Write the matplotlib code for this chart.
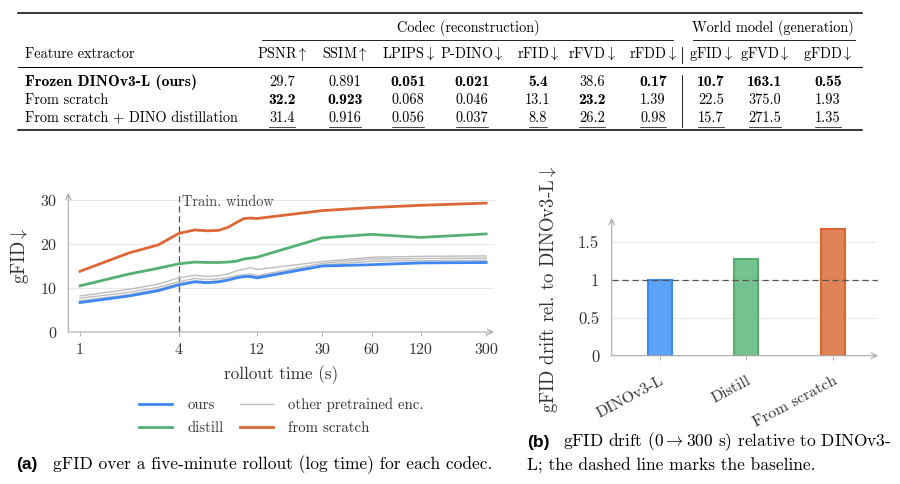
import matplotlib
matplotlib.use("Agg")
import matplotlib.pyplot as plt
from matplotlib.lines import Line2D
import numpy as np

plt.rcParams['font.family'] = ['cmr10', 'DejaVu Serif']
plt.rcParams['mathtext.fontset'] = 'cm'
plt.rcParams['axes.formatter.use_mathtext'] = True
plt.rcParams['axes.unicode_minus'] = False

# ---------------- table data ----------------
row_labels = ["Frozen DINOv3-L (ours)", "From scratch", "From scratch + DINO distillation"]
col_names = ["PSNR", "SSIM", "LPIPS", "P-DINO", "rFID", "rFVD", "rFDD", "gFID", "gFVD", "gFDD"]
higher_better = [True, True, False, False, False, False, False, False, False, False]
psnr = ["29.7", "32.2", "31.4"]
ssim = ["0.891", "0.923", "0.916"]
lpips = ["0.051", "0.068", "0.056"]
pdino = ["0.021", "0.046", "0.037"]
rfid = ["5.4", "13.1", "8.8"]
rfvd = ["38.6", "23.2", "26.2"]
rfdd = ["0.17", "1.39", "0.98"]
gfid = ["10.7", "22.5", "15.7"]
gfvd = ["163.1", "375.0", "271.5"]
gfdd = ["0.55", "1.93", "1.35"]
table_cols = [psnr, ssim, lpips, pdino, rfid, rfvd, rfdd, gfid, gfvd, gfdd]
group_codec = "Codec (reconstruction)"
group_world = "World model (generation)"

# ---------------- rollout (line chart) data ----------------
time_s = [1, 2, 3, 4, 5, 6, 7, 8, 9, 10, 11, 12, 30, 60, 120, 300]
gfid_scratch = [13.8, 18.0, 19.8, 22.4, 23.2, 23.0, 23.1, 23.8, 24.9, 25.8, 25.9, 25.8, 27.6, 28.3, 28.8, 29.3]
gfid_distill = [10.5, 13.2, 14.5, 15.5, 15.9, 15.8, 15.8, 15.9, 16.1, 16.6, 16.8, 17.0, 21.4, 22.2, 21.5, 22.3]
gfid_ours = [6.7, 8.2, 9.4, 10.7, 11.4, 11.2, 11.4, 11.8, 12.3, 12.6, 12.6, 12.3, 15.0, 15.3, 15.7, 15.8]
gfid_other1 = [8.2, 9.7, 10.9, 12.3, 12.9, 12.6, 12.8, 13.2, 13.9, 14.3, 14.6, 14.2, 16.0, 17.0, 17.2, 17.3]
gfid_other2 = [7.7, 9.0, 10.2, 11.4, 12.2, 11.9, 12.1, 12.4, 12.8, 13.0, 13.2, 12.8, 15.6, 16.6, 16.7, 16.8]
gfid_other3 = [7.1, 8.5, 9.7, 11.0, 11.6, 11.4, 11.6, 12.0, 12.4, 12.6, 12.8, 12.5, 15.2, 16.1, 16.2, 16.3]
train_window = 4
xticks_s = [1, 4, 12, 30, 60, 120, 300]

# ---------------- drift (bar chart) data ----------------
drift_labels = ["DINOv3-L", "Distill", "From scratch"]
drift_values = [1.0, 1.28, 1.68]
baseline = 1.0

BLUE, GREEN, ORANGE, GRAY = "#3F87F2", "#55B074", "#DD6736", "#BDBDBD"
bar_fill = ["#5AA3F8", "#74C28F", "#E08357"]
bar_edge = ["#3F87F2", "#55AE6F", "#D9652F"]
AX_GRAY = "#A8A8A8"
TXT = "#333333"

W, H = 900, 484
fig = plt.figure(figsize=(W / 100, H / 100), dpi=100)

def fx(x):
    return x / W

def fy(y):
    return 1 - y / H

def hline(x0, x1, y, lw):
    fig.add_artist(Line2D([fx(x0), fx(x1)], [fy(y), fy(y)], transform=fig.transFigure, color="black", lw=lw))

def vline(x, y0, y1, lw):
    fig.add_artist(Line2D([fx(x), fx(x)], [fy(y0), fy(y1)], transform=fig.transFigure, color="black", lw=lw))

# ---------------- table ----------------
TFS = 10.3
BFS = 11.3
col_x = [282, 345, 408, 472, 538, 592, 653, 711, 765, 828]
row_y = [82, 100, 118]
hline(18, 862, 12.5, 1.1)
fig.text(fx(468), fy(28), group_codec, ha="center", va="center", fontsize=TFS)
fig.text(fx(773), fy(28), group_world, ha="center", va="center", fontsize=TFS)
hline(262, 673, 40, 0.6)
hline(693, 855, 40, 0.6)
fig.text(fx(25), fy(54), "Feature extractor", ha="left", va="center", fontsize=TFS)
for name, hb, cx in zip(col_names, higher_better, col_x):
    arrow = r"$\uparrow$" if hb else r"$\downarrow$"
    fig.text(fx(cx), fy(54), name + arrow, ha="center", va="center", fontsize=TFS)
hline(18, 862, 67, 0.7)
vline(682, 47, 63, 0.6)
vline(682, 75, 127, 0.6)
hline(18, 862, 129.5, 1.1)

for r, lab in enumerate(row_labels):
    fam = "cmb10" if r == 0 else "cmr10"
    fs = BFS if r == 0 else TFS
    fig.text(fx(25), fy(row_y[r]), lab, ha="left", va="center", fontsize=fs, family=fam)

underline_texts = []
for vals, hb, cx in zip(table_cols, higher_better, col_x):
    nums = [float(v) for v in vals]
    order = sorted(range(len(nums)), key=lambda i: -nums[i] if hb else nums[i])
    best, second = order[0], order[1]
    for r, v in enumerate(vals):
        fam = "cmb10" if r == best else "cmr10"
        fs = BFS if r == best else TFS
        t = fig.text(fx(cx), fy(row_y[r]), v, ha="center", va="center", fontsize=fs, family=fam)
        if r == second:
            underline_texts.append(t)

fig.canvas.draw()
renderer = fig.canvas.get_renderer()
for t in underline_texts:
    bb = t.get_window_extent(renderer)
    yline = bb.y0 - 2.5
    fig.add_artist(Line2D([bb.x0 / W, bb.x1 / W], [yline / H, yline / H],
                          transform=fig.transFigure, color="black", lw=0.5))

# ---------------- line chart ----------------
ax1 = fig.add_axes([fx(68.3), fy(332), (494 - 68.3) / W, (332 - 193) / H])
ax1.set_xscale("log")
ax1.set_xlim(0.848, 335)
ax1.set_ylim(0, 31.6)
for s in ax1.spines.values():
    s.set_visible(False)
ax1.annotate("", xy=(1.0, 0), xytext=(0, 0), xycoords="axes fraction",
             arrowprops=dict(arrowstyle="->", color=AX_GRAY, lw=0.8, shrinkA=0, shrinkB=0))
ax1.annotate("", xy=(0, 1.0), xytext=(0, 0), xycoords="axes fraction",
             arrowprops=dict(arrowstyle="->", color=AX_GRAY, lw=0.8, shrinkA=0, shrinkB=0))
ax1.set_yticks([0, 10, 20, 30])
ax1.yaxis.grid(True, color="#E4E4E4", lw=0.6)
ax1.set_axisbelow(True)
ax1.set_xticks(xticks_s)
ax1.set_xticklabels([str(v) for v in xticks_s])
ax1.xaxis.set_minor_locator(matplotlib.ticker.NullLocator())
ax1.tick_params(axis="x", direction="out", length=3, width=0.6, color=AX_GRAY, pad=5,
                labelsize=11.5, labelcolor=TXT)
ax1.tick_params(axis="y", length=0, pad=8, labelsize=11.5, labelcolor=TXT)

for other in (gfid_other1, gfid_other2, gfid_other3):
    ax1.plot(time_s, other, color=GRAY, lw=1.0, zorder=2)
ax1.plot(time_s, gfid_distill, color=GREEN, lw=2.0, zorder=3)
ax1.plot(time_s, gfid_scratch, color=ORANGE, lw=2.0, zorder=3)
ax1.plot(time_s, gfid_ours, color=BLUE, lw=2.0, zorder=4)
ax1.axvline(train_window, color="#555555", lw=0.9, ls=(0, (5, 3)), zorder=1)
ax1.text(train_window * 1.05, 29.6, "Train. window", ha="left", va="center", fontsize=10.4, color="#444444")

ax1.set_ylabel(r"gFID$\downarrow$", fontsize=13.5, color=TXT)
ax1.yaxis.label.set_va("center")
ax1.yaxis.set_label_coords(-(68.3 - 20) / (494 - 68.3), 0.55)
ax1.set_xlabel("rollout time (s)", fontsize=12.3, color=TXT)
ax1.xaxis.label.set_va("center")
ax1.xaxis.set_label_coords(0.5, -(375 - 332) / 139)

handles = [Line2D([], [], color=BLUE, lw=2.0), Line2D([], [], color=GREEN, lw=2.0),
           Line2D([], [], color=GRAY, lw=1.0), Line2D([], [], color=ORANGE, lw=2.0)]
labels = ["ours", "distill", "other pretrained enc.", "from scratch"]
fig.legend(handles, labels, ncol=2, loc="center", bbox_to_anchor=(fx(281.5), fy(416.5)),
           frameon=False, fontsize=10.7, handlelength=2.2, handletextpad=1.05,
           columnspacing=1.1, labelspacing=0.62, labelcolor=TXT)

fig.text(fx(16), fy(465), "(a)", ha="left", va="center", fontsize=12.5, fontweight="bold",
         family="Liberation Sans")
fig.text(fx(53), fy(465), "gFID over a five-minute rollout (log time) for each codec.",
         ha="left", va="center", fontsize=12.5)

# ---------------- bar chart ----------------
ax2 = fig.add_axes([fx(611.7), fy(355.7), (878 - 611.7) / W, (355.7 - 218) / H])
xpos = np.arange(len(drift_labels))
ax2.set_xlim(-0.554, 2.52)
ax2.set_ylim(0, 1.82)
for s in ax2.spines.values():
    s.set_visible(False)
ax2.annotate("", xy=(1.0, 0), xytext=(0, 0), xycoords="axes fraction",
             arrowprops=dict(arrowstyle="->", color=AX_GRAY, lw=0.8, shrinkA=0, shrinkB=0))
ax2.annotate("", xy=(0, 1.0), xytext=(0, 0), xycoords="axes fraction",
             arrowprops=dict(arrowstyle="->", color=AX_GRAY, lw=0.8, shrinkA=0, shrinkB=0))
ax2.set_yticks([0, 0.5, 1, 1.5])
ax2.set_yticklabels(["0", "0.5", "1", "1.5"])
ax2.yaxis.grid(True, color="#E4E4E4", lw=0.6)
ax2.set_axisbelow(True)
ax2.bar(xpos, drift_values, width=0.28, color=bar_fill, edgecolor=bar_edge, linewidth=1.5, zorder=2)
ax2.axhline(baseline, color="#555555", lw=0.9, ls=(0, (5, 3)), zorder=3)
ax2.set_xticks(xpos)
ax2.set_xticklabels(drift_labels, rotation=28, ha="right", va="top", rotation_mode="anchor")
ax2.tick_params(axis="x", direction="out", length=3, width=0.6, color=AX_GRAY, pad=10,
                labelsize=11.5, labelcolor=TXT)
ax2.tick_params(axis="y", length=0, pad=9, labelsize=12, labelcolor=TXT)
ax2.set_ylabel(r"gFID drift rel. to DINOv3-L$\downarrow$", fontsize=13.5, color=TXT)
ax2.yaxis.label.set_va("center")
ax2.yaxis.set_label_coords(-(611.7 - 549) / (878 - 611.7), 0.48)

fig.text(fx(527), fy(442), "(b)", ha="left", va="center", fontsize=12.5, fontweight="bold",
         family="Liberation Sans")
fig.text(fx(563), fy(442), r"gFID drift (0$\rightarrow$300 s) relative to DINOv3-",
         ha="left", va="center", fontsize=12.5)
fig.text(fx(527), fy(466), "L; the dashed line marks the baseline.",
         ha="left", va="center", fontsize=12.5)

fig.savefig("out.png", dpi=100)
